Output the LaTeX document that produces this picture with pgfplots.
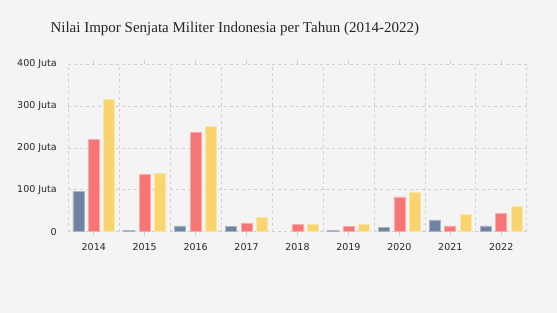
\documentclass[border=0pt]{standalone}
\usepackage{pgfplots}
\pgfplotsset{compat=1.18}
\usepackage{fontspec}
\setmainfont{Liberation Serif}
\newfontfamily\tickfont{DejaVu Sans}
\definecolor{bg}{HTML}{F4F4F4}
\definecolor{cblue}{HTML}{6E84A0}
\definecolor{cred}{HTML}{F87575}
\definecolor{cyel}{HTML}{FAD46F}
\definecolor{gridc}{HTML}{D0D0D0}
\begin{document}
\begin{tikzpicture}
\useasboundingbox (0pt,0pt) rectangle (557pt,313pt);
\fill[bg] (0pt,0pt) rectangle (557pt,313pt);
\node[anchor=base west, font=\fontsize{15}{18}\selectfont, text=black!85] at (47pt,280pt) {Nilai Impor Senjata Militer Indonesia per Tahun (2014-2022)};
\begin{axis}[
  at={(68.3pt,81.3pt)}, anchor=south west,
  scale only axis, width=458.4pt, height=167.7pt,
  xmin=-0.5, xmax=8.5, ymin=0, ymax=400,
  ybar=4.4pt, bar width=11pt,
  xtick={0,...,8},
  xticklabels={2014,2015,2016,2017,2018,2019,2020,2021,2022},
  minor xtick={-0.5,0.5,...,8.5},
  ytick={0,100,200,300,400},
  yticklabels={0,100 Juta,200 Juta,300 Juta,400 Juta},
  axis line style={draw=none},
  ymajorgrids, xminorgrids,
  major grid style={gridc, dashed, line width=0.6pt},
  minor grid style={gridc, dashed, line width=0.6pt},
  ytick style={draw=none},
  minor tick length=0pt,
  xtick style={gridc, line width=0.6pt},
  tick align=outside, major tick length=4pt,
  ticklabel style={font=\tickfont\fontsize{9.5}{11}\selectfont, text=black!85},
  yticklabel style={xshift=-4pt},
  xticklabel style={yshift=-4.5pt},
  /pgf/number format/assume math mode=true,
  clip=false,
]
\addplot[fill=cblue, draw=white!40!cblue, line width=0.6pt] coordinates {(0,96) (1,3) (2,14) (3,12) (5,4) (6,10) (7,28) (8,14)};
\addplot[fill=cred, draw=white!40!cred, line width=0.6pt] coordinates {(0,220) (1,137) (2,237) (3,21) (4,17) (5,13) (6,83) (7,14) (8,44)};
\addplot[fill=cyel, draw=white!40!cyel, line width=0.6pt] coordinates {(0,316) (1,139) (2,252) (3,34) (4,17) (5,17) (6,94) (7,42) (8,60)};
\end{axis}
\end{tikzpicture}
\end{document}
